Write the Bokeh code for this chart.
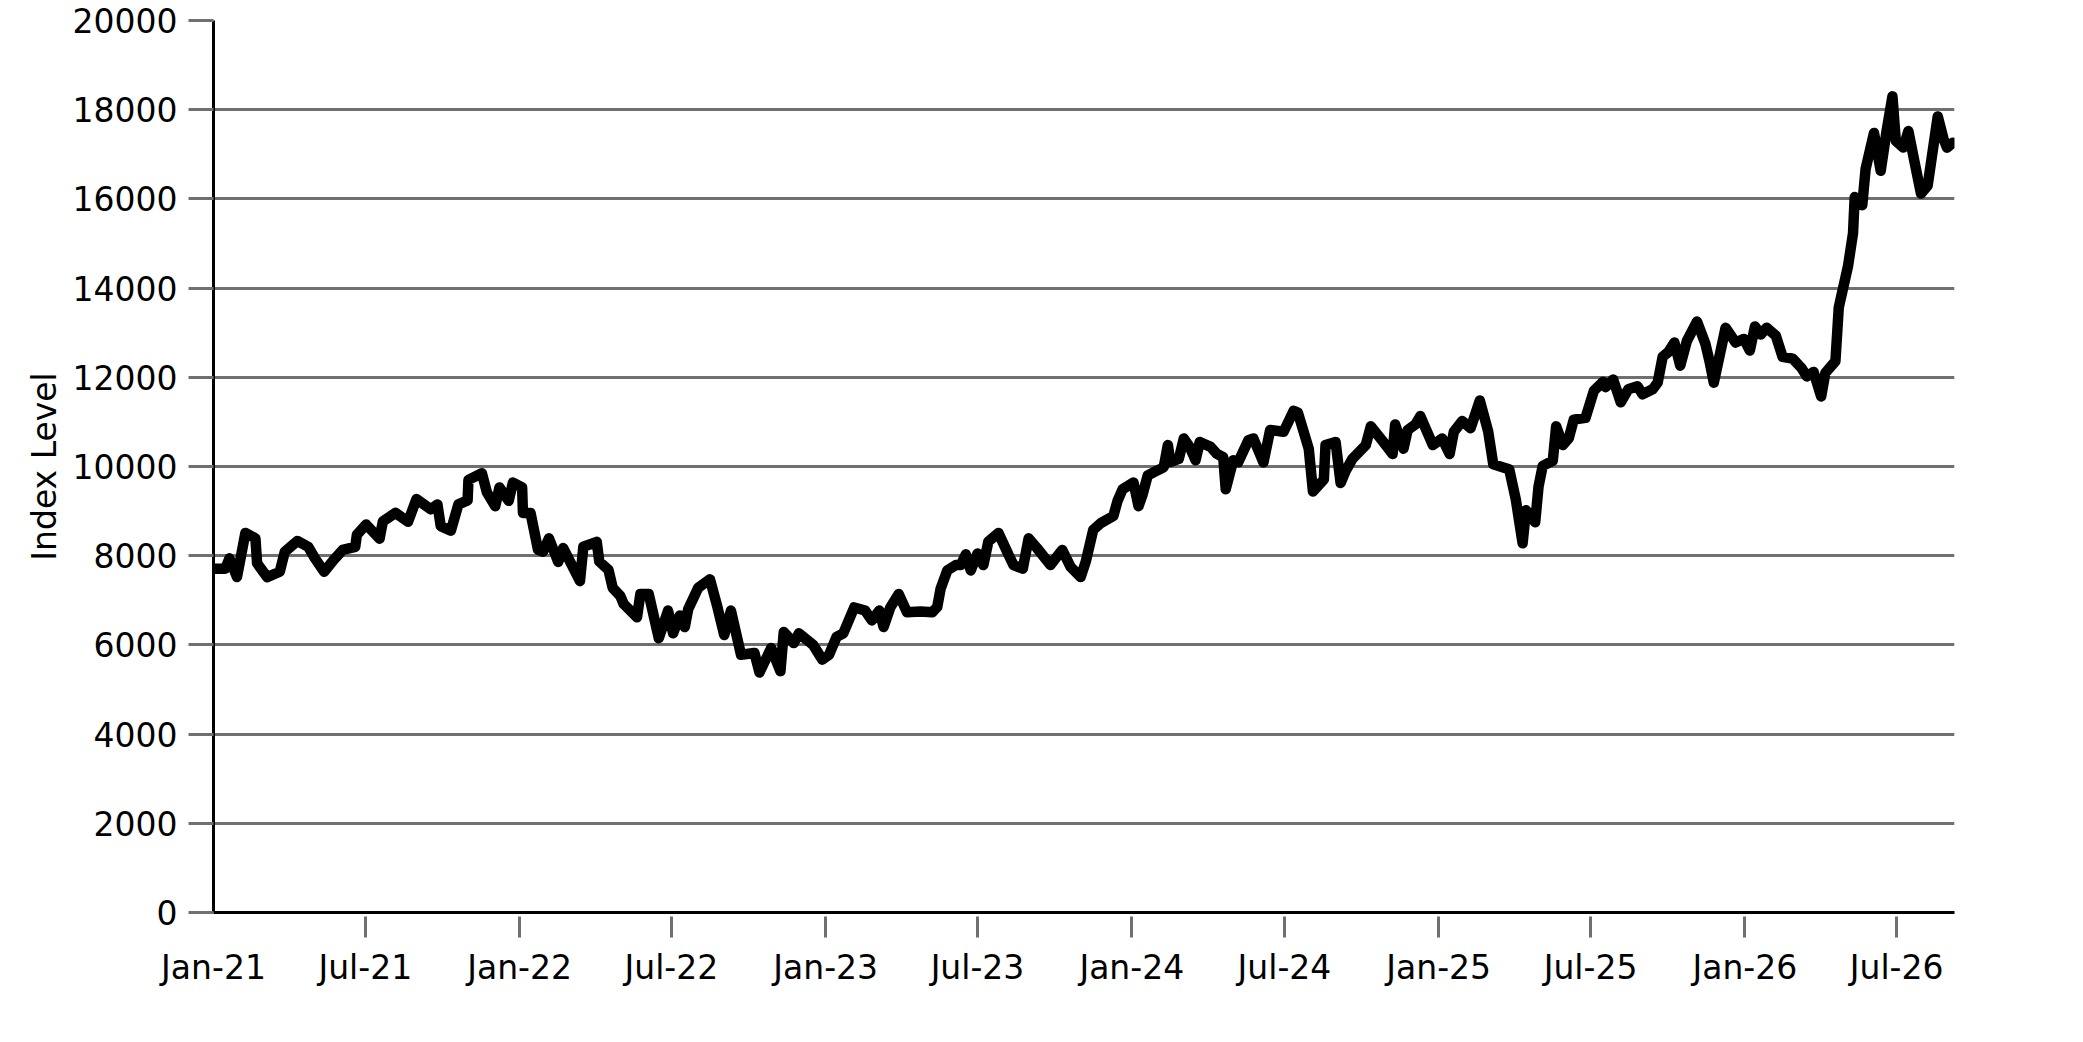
import pandas as pd
from bokeh.plotting import figure
from bokeh.models import Range1d, FixedTicker, DatetimeTickFormatter, DatetimeAxis
from bokeh.embed import file_html
from bokeh.resources import INLINE

# index level (irregular spacing follows the drawn vertices)
dates = [
    # 2021
    "2021-01-01", "2021-01-15", "2021-01-20", "2021-01-29", "2021-02-08", "2021-02-20",
    "2021-02-22", "2021-03-06", "2021-03-21", "2021-03-27", "2021-04-11", "2021-04-24",
    "2021-05-02", "2021-05-13", "2021-05-24", "2021-06-04", "2021-06-19", "2021-06-21",
    "2021-07-02", "2021-07-18", "2021-07-22", "2021-08-06", "2021-08-21", "2021-08-31",
    "2021-09-17", "2021-09-25", "2021-09-29", "2021-10-11", "2021-10-20", "2021-10-31",
    "2021-11-01", "2021-11-17", "2021-11-23", "2021-12-03", "2021-12-08", "2021-12-19",
    "2021-12-24",
    # 2022
    "2022-01-04", "2022-01-05", "2022-01-14", "2022-01-23", "2022-01-29", "2022-02-05",
    "2022-02-16", "2022-02-22", "2022-03-14", "2022-03-18", "2022-04-03", "2022-04-06",
    "2022-04-17", "2022-04-22", "2022-05-01", "2022-05-05", "2022-05-21", "2022-05-25",
    "2022-06-04", "2022-06-16", "2022-06-27", "2022-07-03", "2022-07-11", "2022-07-17",
    "2022-07-21", "2022-08-02", "2022-08-16", "2022-08-25", "2022-09-02", "2022-09-10",
    "2022-09-22", "2022-10-08", "2022-10-14", "2022-10-28", "2022-11-08", "2022-11-12",
    "2022-11-24", "2022-11-30", "2022-12-17", "2022-12-28",
    # 2023
    "2023-01-05", "2023-01-14", "2023-01-22", "2023-02-04", "2023-02-17", "2023-02-25",
    "2023-03-06", "2023-03-11", "2023-03-19", "2023-03-29", "2023-04-08", "2023-04-24",
    "2023-05-08", "2023-05-14", "2023-05-18", "2023-05-26", "2023-06-05", "2023-06-11",
    "2023-06-17", "2023-06-23", "2023-07-01", "2023-07-08", "2023-07-14", "2023-07-26",
    "2023-08-07", "2023-08-13", "2023-08-24", "2023-08-31", "2023-09-10", "2023-09-26",
    "2023-10-10", "2023-10-20", "2023-11-01", "2023-11-07", "2023-11-16", "2023-11-25",
    "2023-12-10", "2023-12-15", "2023-12-21",
    # 2024
    "2024-01-03", "2024-01-09", "2024-01-14", "2024-01-20", "2024-01-27", "2024-02-08",
    "2024-02-13", "2024-02-16", "2024-02-26", "2024-03-03", "2024-03-10", "2024-03-17",
    "2024-03-22", "2024-04-04", "2024-04-11", "2024-04-19", "2024-04-22", "2024-05-01",
    "2024-05-07", "2024-05-19", "2024-05-25", "2024-06-06", "2024-06-14", "2024-06-30",
    "2024-07-12", "2024-07-17", "2024-07-30", "2024-08-04", "2024-08-17", "2024-08-19",
    "2024-08-31", "2024-09-06", "2024-09-12", "2024-09-20", "2024-10-06", "2024-10-12",
    "2024-10-27", "2024-11-07", "2024-11-10", "2024-11-20", "2024-11-25", "2024-12-04",
    "2024-12-10", "2024-12-25",
    # 2025
    "2025-01-05", "2025-01-14", "2025-01-19", "2025-01-29", "2025-02-08", "2025-02-19",
    "2025-03-01", "2025-03-07", "2025-03-19", "2025-03-26", "2025-04-03", "2025-04-11",
    "2025-04-15", "2025-04-26", "2025-04-30", "2025-05-05", "2025-05-17", "2025-05-21",
    "2025-05-29", "2025-06-05", "2025-06-11", "2025-06-25", "2025-07-05", "2025-07-16",
    "2025-07-19", "2025-07-28", "2025-08-06", "2025-08-15", "2025-08-26", "2025-09-01",
    "2025-09-13", "2025-09-19", "2025-09-25", "2025-10-02", "2025-10-09", "2025-10-16",
    "2025-10-24", "2025-11-05", "2025-11-15", "2025-11-20", "2025-11-25", "2025-12-09",
    "2025-12-21", "2025-12-31",
    # 2026
    "2026-01-07", "2026-01-13", "2026-01-20", "2026-01-27", "2026-02-07", "2026-02-15",
    "2026-02-27", "2026-03-09", "2026-03-16", "2026-03-24", "2026-04-02", "2026-04-07",
    "2026-04-19", "2026-04-23", "2026-05-04", "2026-05-10", "2026-05-12", "2026-05-21",
    "2026-05-25", "2026-06-04", "2026-06-12", "2026-06-19", "2026-06-26", "2026-06-30",
    "2026-07-09", "2026-07-15", "2026-07-22", "2026-07-30", "2026-08-07", "2026-08-19",
    "2026-08-26", "2026-08-30", "2026-09-06",
]

index_level = [
    # 2021
    7710, 7710, 7940, 7520, 8510, 8390,
    7830, 7520, 7640, 8090, 8330, 8200,
    7940, 7640, 7900, 8130, 8200, 8470,
    8700, 8380, 8770, 8960, 8760, 9270,
    9040, 9150, 8660, 8560, 9150, 9240,
    9700, 9850, 9420, 9110, 9530, 9230,
    9640,
    # 2022
    9530, 8960, 8960, 8130, 8090, 8390,
    7860, 8170, 7430, 8200, 8310, 7870,
    7680, 7280, 7100, 6920, 6620, 7140,
    7140, 6150, 6770, 6260, 6660, 6400,
    6800, 7280, 7470, 6840, 6220, 6770,
    5780, 5820, 5380, 5930, 5410, 6290,
    6040, 6260, 6000, 5670,
    # 2023
    5780, 6180, 6260, 6840, 6770, 6550,
    6770, 6400, 6840, 7140, 6730, 6750,
    6730, 6850, 7260, 7670, 7790, 7790,
    8030, 7670, 8050, 7790, 8320, 8510,
    8020, 7790, 7710, 8390, 8170, 7790,
    8130, 7750, 7520, 7860, 8580, 8730,
    8890, 9230, 9490,
    # 2024
    9640, 9110, 9380, 9800, 9870, 9980,
    10480, 10100, 10170, 10630, 10440, 10140,
    10550, 10440, 10290, 10210, 9490, 10140,
    10100, 10590, 10630, 10090, 10820, 10780,
    11250, 11210, 10400, 9440, 9710, 10480,
    10550, 9630, 9900, 10170, 10480, 10900,
    10550, 10280, 10940, 10400, 10820, 10940,
    11130, 10480,
    # 2025
    10630, 10280, 10780, 11020, 10860, 11480,
    10780, 10050, 9980, 9940, 9250, 8280,
    9020, 8750, 9550, 10015, 10130, 10900,
    10480, 10630, 11050, 11090, 11700, 11900,
    11780, 11950, 11440, 11730, 11800, 11620,
    11730, 11880, 12460, 12570, 12780, 12260,
    12820, 13250, 12750, 12350, 11880, 13110,
    12780, 12860,
    # 2026
    12600, 13140, 12960, 13110, 12930, 12460,
    12420, 12220, 12020, 12120, 11570, 12100,
    12360, 13570, 14490, 15230, 16040, 15860,
    16670, 17480, 16630, 17520, 18300, 17300,
    17150, 17520, 16860, 16120, 16300, 17850,
    17340, 17150, 17260,
]

x_start = "2021-01-01"
x_end = "2026-09-08"
x_label_dates = [
    "2021-01-01", "2021-07-01", "2022-01-01", "2022-07-01", "2023-01-01", "2023-07-01",
    "2024-01-01", "2024-07-01", "2025-01-01", "2025-07-01", "2026-01-01", "2026-07-01",
]
# the original draws no tick mark under Jan-21 (it sits on the y axis)
x_tick_dates = x_label_dates[1:]
y_ticks = [0, 2000, 4000, 6000, 8000, 10000, 12000, 14000, 16000, 18000, 20000]

FONT = "DejaVu Sans"
GRID = "#707070"
FS = "33px"


def ms(d):
    return pd.Timestamp(d).value // 10**6


x = pd.to_datetime(dates)

p = figure(
    width=2067, height=1026,
    x_axis_type="datetime",
    x_range=Range1d(ms(x_start), ms(x_end)),
    y_range=Range1d(0, 20000),
    output_backend="svg",
    toolbar_location=None,
    min_border_left=213, min_border_right=113,
    min_border_top=20, min_border_bottom=114,
)
p.outline_line_color = None
p.background_fill_color = "white"
p.border_fill_color = "white"

# grid: horizontal only
p.xgrid.visible = False
p.ygrid.ticker = FixedTicker(ticks=y_ticks)
p.ygrid.grid_line_color = GRID
p.ygrid.grid_line_width = 3

# y axis
yax = p.yaxis[0]
yax.ticker = FixedTicker(ticks=y_ticks)
yax.axis_line_color = "black"
yax.axis_line_width = 3
yax.major_tick_line_color = GRID
yax.major_tick_line_width = 3
yax.major_tick_in = 0
yax.major_tick_out = 25
yax.minor_tick_line_color = None
yax.major_label_standoff = 11
yax.major_label_text_font = FONT
yax.major_label_text_font_size = FS
yax.major_label_text_color = "black"
yax.axis_label = "Index Level"
yax.axis_label_text_font = FONT
yax.axis_label_text_font_size = FS
yax.axis_label_text_font_style = "normal"
yax.axis_label_text_color = "black"
yax.axis_label_standoff = 6

# x axis: line and tick marks only (its labels are switched off)
xax = p.xaxis[0]
xax.ticker = FixedTicker(ticks=[ms(d) for d in x_tick_dates])
xax.axis_line_color = "black"
xax.axis_line_width = 3
xax.major_tick_line_color = GRID
xax.major_tick_line_width = 3
xax.major_tick_in = -4
xax.major_tick_out = 25
xax.minor_tick_line_color = None
xax.major_label_standoff = 0
xax.major_label_text_color = None

# second x axis just below it carrying the month labels
xlab = DatetimeAxis(
    ticker=FixedTicker(ticks=[ms(d) for d in x_label_dates]),
    formatter=DatetimeTickFormatter(days="%b-%y", months="%b-%y", years="%b-%y"),
    axis_line_color=None,
    major_tick_line_color=None,
    minor_tick_line_color=None,
    major_tick_in=0, major_tick_out=0,
    major_label_standoff=10,
    major_label_text_font=FONT,
    major_label_text_font_size=FS,
    major_label_text_color="black",
)
p.add_layout(xlab, "below")

p.line(x, index_level, line_color="black", line_width=10.5,
       line_join="round", line_cap="round")

open("out.html", "w").write(file_html(p, INLINE))
